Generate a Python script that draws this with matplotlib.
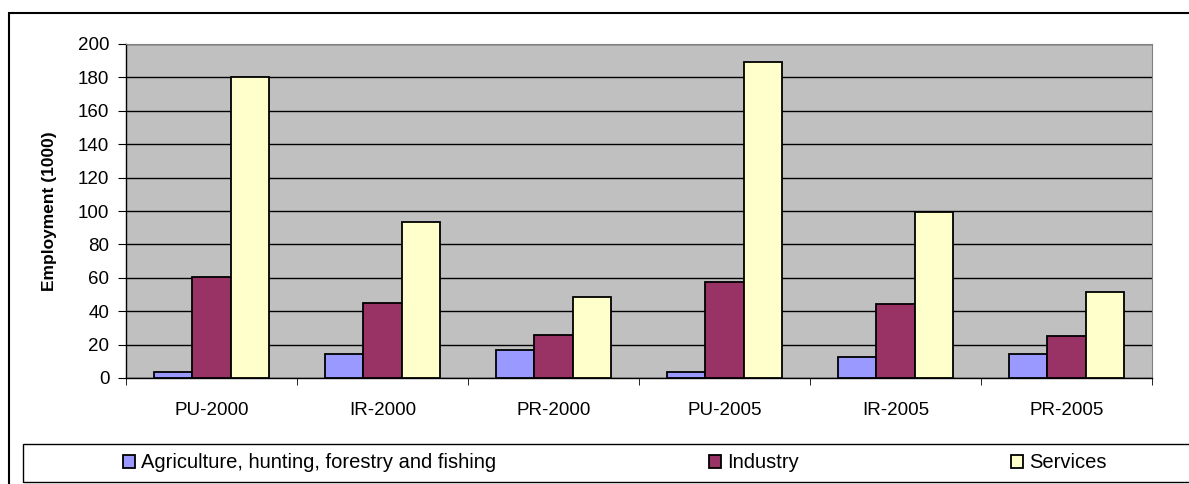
import numpy as np
import matplotlib
matplotlib.use("Agg")
import matplotlib.pyplot as plt
from matplotlib.patches import Rectangle

plt.rcParams['font.family'] = ['Liberation Sans', 'DejaVu Sans']

regions = ['PU-2000', 'IR-2000', 'PR-2000', 'PU-2005', 'IR-2005', 'PR-2005']
agriculture = [3.6, 14.2, 16.8, 3.6, 12.4, 14.2]
industry = [60.4, 45.2, 25.8, 57.6, 44.4, 25.0]
services = [180.4, 93.2, 48.8, 189.4, 99.4, 51.6]
series_names = ['Agriculture, hunting, forestry and fishing', 'Industry', 'Services']
colors = ['#9999FF', '#993366', '#FFFFCC']

fig = plt.figure(figsize=(11.89, 4.84), dpi=100)
ax = fig.add_axes([126/1189, 1-378/484, 1026/1189, 334/484])

x = np.arange(len(regions))
w = 0.225
for i, (vals, name, c) in enumerate(zip([agriculture, industry, services], series_names, colors)):
    ax.bar(x + (i-1)*w, vals, w, color=c, edgecolor='black', linewidth=1.3, label=name, zorder=3)

ax.set_facecolor('#C0C0C0')
ax.set_xlim(-0.5, len(regions)-0.5)
ax.set_ylim(0, 200)
ax.set_yticks(np.arange(0, 201, 20))
ax.yaxis.grid(True, color='black', linewidth=1.0, zorder=1)
ax.set_axisbelow(True)

ax.set_xticks(x)
ax.set_xticklabels(regions, fontsize=13.5)
ax.set_xticks(np.arange(-0.5, len(regions)), minor=True)
ax.tick_params(axis='x', which='major', length=0, pad=17)
ax.tick_params(axis='x', which='minor', length=5, direction='out', color='black')
ax.tick_params(axis='y', length=6, direction='out', labelsize=13.5, pad=6)

for s in ['top', 'right']:
    ax.spines[s].set_color('#808080')
for s in ['left', 'bottom']:
    ax.spines[s].set_color('black')
    ax.spines[s].set_linewidth(1.0)

ax.set_ylabel('Employment (1000)', fontsize=12.5, fontweight='bold', labelpad=15)

# outer chart border
fig.patches.append(Rectangle((9/1189, -0.05), 1.1, 1-13/484+0.05, transform=fig.transFigure,
                             fill=False, edgecolor='black', linewidth=1.5))
# legend box
fig.patches.append(Rectangle((23/1189, 2/484), 1.1, 38/484, transform=fig.transFigure,
                             fill=False, edgecolor='black', linewidth=1.0))

fig.legend(loc='center', bbox_to_anchor=(115/1189, 5/484, 1000/1189, 32/484), mode='expand',
           ncol=3, frameon=False, fontsize=14.5, handlelength=0.6, handleheight=0.6,
           handletextpad=0.3, borderaxespad=0)

fig.savefig('out.png', dpi=100)
